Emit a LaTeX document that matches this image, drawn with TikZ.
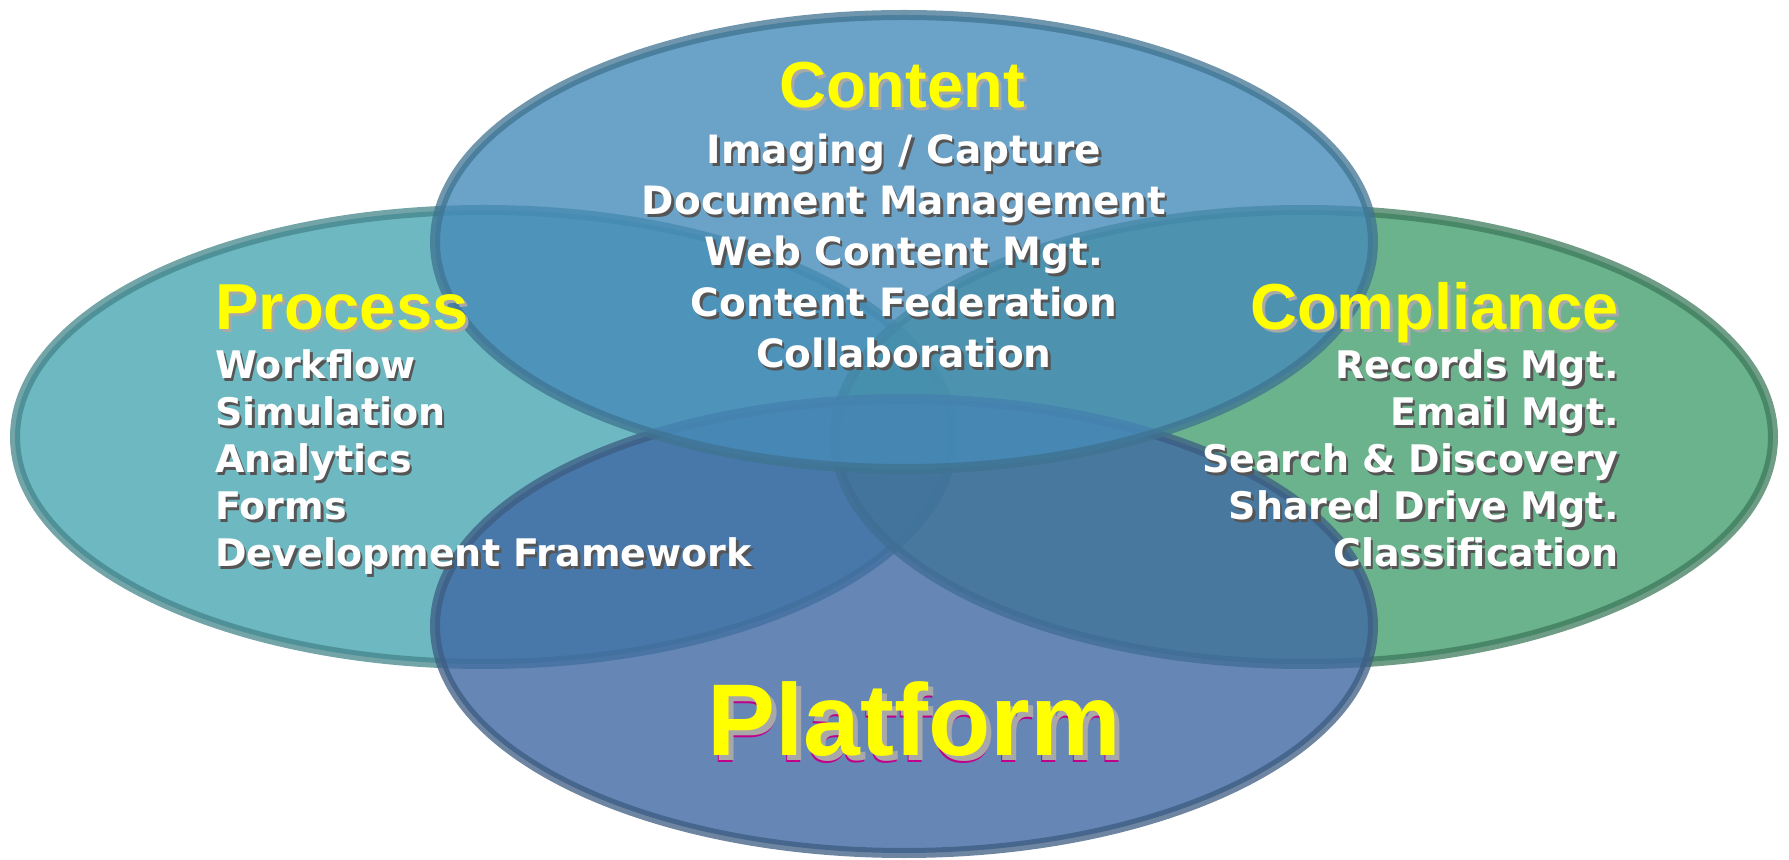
\documentclass[tikz,border=0pt]{standalone}
\usepackage{fontspec}
\setmainfont{Liberation Sans}
\newfontfamily\itemfont{DejaVu Sans}
\usepackage{tikz}
\usetikzlibrary{shapes.geometric}

\definecolor{contentblue}{HTML}{468BB9}
\definecolor{processteal}{HTML}{48A6B2}
\definecolor{complygreen}{HTML}{46A070}
\definecolor{platformblue}{HTML}{4069A3}
\definecolor{contentrim}{HTML}{3F7391}
\definecolor{processrim}{HTML}{44858A}
\definecolor{complyrim}{HTML}{3D7B5C}
\definecolor{platformrim}{HTML}{3D5C82}
\definecolor{headyellow}{HTML}{FFFF00}
\definecolor{headshadow}{HTML}{A8A8A8}
\definecolor{itemshadow}{HTML}{555555}
\definecolor{platmagenta}{HTML}{C0008A}

\newcommand{\shadowtext}[3]{\rlap{\kern#1\raisebox{-#1}{\textcolor{#2}{#3}}}#3}
\newcommand{\platformtext}[1]{\rlap{\kern2pt\raisebox{-3.5pt}{\textcolor{platmagenta}{#1}}}\shadowtext{2.5pt}{headshadow}{#1}}

\tikzset{
  setellipse/.style={ellipse, inner sep=0pt, minimum width=469pt, minimum height=227pt,
    line width=5pt, fill opacity=0.8, draw opacity=0.75},
  heading/.style={inner sep=0pt, text=headyellow, font=\bfseries\fontsize{32.5pt}{36pt}\selectfont},
  itemlist/.style={inner sep=0pt, text=white, font=\itemfont\bfseries\fontsize{19pt}{23.5pt}\selectfont}
}

\begin{document}
\begin{tikzpicture}[x=0.5pt, y=-0.5pt]
        \useasboundingbox (0,0) rectangle (1789,860);

        % Sets
        \node[setellipse, fill=processteal, draw=processrim] (process) at (484, 437) {};
        \node[setellipse, fill=complygreen, draw=complyrim] (compliance) at (1304, 437) {};
        \node[setellipse, fill=platformblue, draw=platformrim] (platform) at (904, 626) {};
        \node[setellipse, fill=contentblue, draw=contentrim] (content) at (904, 242) {};

        % Headings
        \node[heading, anchor=base] (content title) at (902, 108) {\shadowtext{1.5pt}{headshadow}{Content}};
        \node[heading, anchor=base west] (process title) at (215, 330) {\shadowtext{1.5pt}{headshadow}{Process}};
        \node[heading, anchor=base east] (compliance title) at (1619, 330) {\shadowtext{1.5pt}{headshadow}{Compliance}};
        \node[heading, anchor=base, font=\bfseries\fontsize{51pt}{56pt}\selectfont] (platform title) at (914, 755) {\platformtext{Platform}};

        % Items (base = last line)
        \node[itemlist, anchor=base, align=center, font=\itemfont\bfseries\fontsize{19.5pt}{25.5pt}\selectfont] (content items) at (904, 368) {%
            \shadowtext{1.2pt}{itemshadow}{Imaging / Capture}\\
            \shadowtext{1.2pt}{itemshadow}{Document Management}\\
            \shadowtext{1.2pt}{itemshadow}{Web Content Mgt.}\\
            \shadowtext{1.2pt}{itemshadow}{Content Federation}\\
            \shadowtext{1.2pt}{itemshadow}{Collaboration}};
        \node[itemlist, anchor=base west, align=left] (process items) at (215, 567) {%
            \shadowtext{1.2pt}{itemshadow}{Workflow}\\
            \shadowtext{1.2pt}{itemshadow}{Simulation}\\
            \shadowtext{1.2pt}{itemshadow}{Analytics}\\
            \shadowtext{1.2pt}{itemshadow}{Forms}\\
            \shadowtext{1.2pt}{itemshadow}{Development Framework}};
        \node[itemlist, anchor=base east, align=right] (compliance items) at (1619, 567) {%
            \shadowtext{1.2pt}{itemshadow}{Records Mgt.}\\
            \shadowtext{1.2pt}{itemshadow}{Email Mgt.}\\
            \shadowtext{1.2pt}{itemshadow}{Search \& Discovery}\\
            \shadowtext{1.2pt}{itemshadow}{Shared Drive Mgt.}\\
            \shadowtext{1.2pt}{itemshadow}{Classification}};

\end{tikzpicture}
\end{document}
